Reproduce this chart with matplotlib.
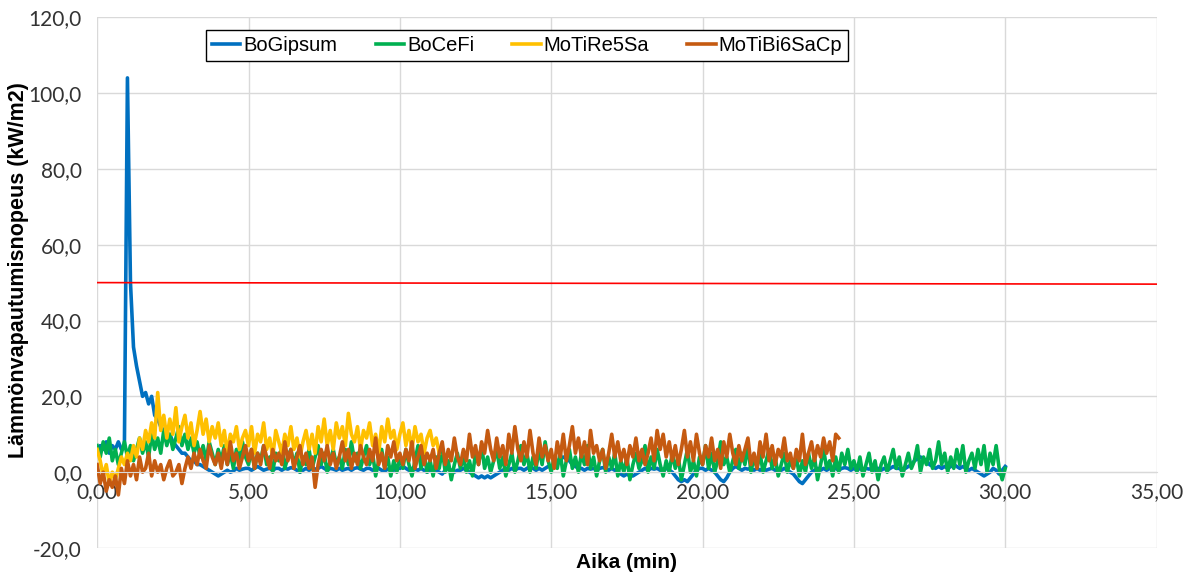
import numpy as np
import matplotlib.pyplot as plt
from matplotlib.ticker import FuncFormatter

# heat release rate readings, one value every 0.1 min
bo_gipsum = [5, 7, 6, 8, 5, 7, 6, 8, 6, 7,
             104, 50, 33, 28, 24, 20, 21, 18, 20, 15,
             14, 12, 11, 9, 10, 8, 7, 6, 5, 5,
             4, 3, 3, 2, 2, 1.5, 1, 0.5, 0, -0.5,
             -1, -0.5, 0, 0.5, 0, 0.3, 1, 0.5, 0.8, 1,
             1, 0.5, 1, 1.5, 1, 0.5, 0.8, 1, 0.5, 1,
             1, 0.5, 1, 0.8, 1.2, 1, 0.5, 0, 0.5, 1,
             0.5, 1, 0.8, 1, 1.5, 1, 0.5, 1, 0.8, 0.5,
             1, 0.5, 0.8, 1, 0.5, 1, 1.2, 0.8, 0.5, 1,
             1, 0.5, 0.8, 1, 0.5, 0.3, 0.8, 1, 0.5, 1,
             1, 1.5, 1, 0.5, 1, 0.8, 0.5, 1, 0.5, 0,
             0.5, 1, 0.5, 0, -0.5, 0.5, 1, 0.5, 0, 0.5,
             0.5, 1, 0.5, 0, -0.5, -1, -1.5, -1, -1.5, -1,
             -1.5, -1, -0.5, 0, 0.5, 1, 0.5, 1, 0.5, 1,
             1, 0.5, 1, 1.5, 1, 0.5, 1, 0.5, 1, 1.5,
             1.5, 2, 3, 3.5, 4, 3.5, 3, 2, 1.5, 1,
             1, 0.5, 1, 0.8, 1, 0.5, 1, 1.2, 1, 0.5,
             1, 0.5, 0, -0.5, -1, -0.5, -1, -1, -0.5, 0,
             0.5, 1, 0.5, 1, 0.8, 1, 0.5, 0.8, 1, 0.5,
             0, -1, -2, -2.5, -2, -2.5, -1.5, -0.5, 0.5, 1,
             1, 0.5, 1, 0.5, 0, -1, -2, -2.5, -1.5, 0,
             1, 1.5, 1, 0.5, 1, 0.8, 1, 0.5, 1, 0.5,
             1, 0.5, 0.8, 1, 0.5, 0, 0.5, 1, 0.5, 0,
             -0.5, -1.5, -2.5, -3, -2, -1, 0, 0.5, 1, 0.5,
             1, 0.5, 1, 0.8, 1, 0.5, 1, 1.2, 1, 0.5,
             1, 0.5, 1, 0.5, 1, 0.8, 1, 0.5, 1, 0.5,
             1, 0.5, 1, 1.5, 1, 1, 0.5, 1, 1.5, 2,
             3, 3.5, 4, 3.5, 3, 2, 1.5, 1, 1.5, 1,
             1.5, 1, 1.5, 2, 1.5, 1, 1.5, 1, 0.5, 1,
             0.5, 0, -0.5, -1, -0.5, 0, 1, 0.5, -0.5, 0.5,
             1.5]

bo_cefi = [7, 4, 8, 5, 9, 3, 6, 2, 5, 8,
           4, 7, 3, 6, 9, 5, 8, 4, 10, 6,
           9, 5, 11, 7, 10, 6, 9, 12, 7, 10,
           6, 9, 5, 8, 4, 7, 3, 8, 5, 2,
           6, 3, 7, 2, 5, 1, 6, 3, 8, 4,
           2, 6, 1, 5, 3, 7, 2, 4, 0, 5,
           3, 7, 1, 4, 6, 2, 5, 0, 4, 2,
           6, 1, 4, 7, 2, 5, 0, 3, 6, 2,
           4, 1, 6, 2, 8, 3, 5, 1, 4, 7,
           2, 5, -1, 3, 6, 1, 4, -1, 3, 0,
           4, 1, 6, 2, -1, 3, 7, 1, 5, 0,
           3, -1, 4, 1, 6, 0, 3, -2, 2, 5,
           1, 4, 0, 3, -1, 5, 2, 7, 1, 4,
           0, 3, 6, 1, 4, -1, 2, 5, 0, 3,
           7, 2, 5, 0, 4, 1, 6, 2, 8, 3,
           0, 4, 1, 5, -1, 3, 6, 1, 4, 0,
           5, 2, 7, 1, 4, -1, 3, 6, 0, 4,
           1, 5, -1, 3, 0, 4, -2, 2, 5, 1,
           3, 7, 0, 4, 1, 6, 2, -1, 3, 0,
           5, 1, 4, -2, 2, 6, 0, 3, -1, 4,
           2, 7, 1, 5, 0, 3, 8, 2, 4, 0,
           3, 6, 1, 5, 2, 7, 0, 4, 1, 5,
           0, 3, 6, 1, 4, -1, 2, 5, 0, 3,
           1, 4, -1, 3, 0, 5, 1, 4, -2, 2,
           6, 1, 3, -1, 4, 0, 5, 2, 6, 1,
           3, 0, 4, -1, 2, 5, 0, 3, -2, 2,
           4, 0, 3, 6, 1, 4, -1, 2, 5, 1,
           3, 7, 0, 4, 2, 6, 1, 3, 8, 2,
           5, 0, 4, 1, 6, 2, 7, 0, 3, 5,
           1, 6, 2, 7, 0, 5, 2, 7, 1, -2,
           1]

mo_tire5sa = [6, 3, -1, 2, -3, 0, -2, 1, 4, 2,
              5, 3, 7, 4, 9, 6, 11, 8, 13, 9,
              21, 11, 15, 9, 14, 10, 17, 8, 12, 15,
              9, 13, 7, 11, 16, 10, 14, 8, 12, 9,
              13, 7, 11, 5, 10, 8, 12, 6, 9, 11,
              7, 12, 5, 10, 8, 13, 6, 9, 4, 11,
              8, 5, 10, 7, 12, 6, 9, 4, 8, 11,
              6, 10, 5, 12, 8, 14, 7, 11, 6, 13,
              9, 12, 7, 15.5, 10, 8, 12, 6, 11, 9,
              13, 7, 10, 5, 12, 8, 14, 9, 11, 6,
              10, 13, 7, 11, 6, 12, 8, 10, 5, 9,
              11, 7, 9, 5]

mo_tibi6sacp = [2, -3, 0, -5, -2, -4, -1, -6, 1, -3,
                3, -1, 2, -2, 4, 0, 1, 5, -1, 3,
                0, 2, -2, 1, 3, -1, 0, 2, -3, 1,
                4, 1, 5, 2, 6, 3, 1, 7, 4, 2,
                5, 1, 6, 2, 8, 3, 5, 1, 4, 7,
                3, 6, 1, 5, 2, 7, 4, 1, 6, 3,
                5, 2, 8, 3, 6, 1, 4, 7, 2, 5,
                1, 4, -4, 2, 6, 3, 7, 2, 5, 1,
                4, 8, 3, 6, 1, 5, 2, 7, 4, 2,
                6, 3, 9, 2, 5, 1, 7, 4, 8, 3,
                5, 2, 6, 3, 8, 1, 4, 7, 2, 5,
                3, 6, 1, 5, 8, 2, 6, 3, 9, 4,
                2, 6, 3, 10, 4, 7, 2, 8, 5, 11,
                6, 3, 9, 4, 7, 2, 10, 5, 12, 6,
                3, 8, 4, 11, 5, 2, 9, 4, 7, 3,
                6, 1, 8, 4, 10, 3, 7, 12, 5, 9,
                4, 8, 2, 11, 5, 7, 3, 6, 1, 5,
                10, 4, 8, 3, 6, 2, 7, 4, 9, 3,
                6, 2, 5, 9, 3, 11, 6, 10, 4, 8,
                3, 7, 2, 6, 11, 4, 8, 3, 10, 5,
                2, 7, 4, 9, 3, 6, 1, 8, 4, 10,
                5, 2, 7, 3, 6, 9, 2, 5, 1, 8,
                4, 10, 3, 7, 2, 6, 4, 9, 3, 5,
                1, 6, 3, 10, 2, 5, 8, 3, 7, 4,
                9, 5, 8, 3, 10, 9]

limit_x = [0, 35]
limit_y = [50.0, 49.6]

series = [('BoGipsum', bo_gipsum, '#0070C0'),
          ('BoCeFi', bo_cefi, '#00B050'),
          ('MoTiRe5Sa', mo_tire5sa, '#FFC000'),
          ('MoTiBi6SaCp', mo_tibi6sacp, '#C55A11')]

fig = plt.figure(figsize=(11.85, 5.75), dpi=100)
ax = fig.add_axes([0.082, 0.047, 0.894, 0.923])

for name, vals, col in series:
    t = np.arange(len(vals)) * 0.1
    ax.plot(t, vals, color=col, lw=2.6, label=name)

ax.plot(limit_x, limit_y, color='#FF0000', lw=1.2)

ax.set_xlim(0, 35)
ax.set_ylim(-20, 120)
ax.set_xticks(np.arange(0, 36, 5))
ax.set_yticks(np.arange(-20, 121, 20))
ax.xaxis.set_major_formatter(FuncFormatter(lambda v, p: f'{v:.2f}'.replace('.', ',')))
ax.yaxis.set_major_formatter(FuncFormatter(lambda v, p: f'{v:.1f}'.replace('.', ',')))
ax.grid(color='#d9d9d9', lw=1)
ax.set_axisbelow(True)
for s in ['top', 'right', 'left']:
    ax.spines[s].set_visible(False)
ax.spines['bottom'].set_position(('data', 0))
ax.spines['bottom'].set_color('#d9d9d9')
ax.tick_params(length=0, labelsize=15, colors='#333333')
ax.tick_params(axis='x', pad=7)
ax.tick_params(axis='y', pad=11)
for lab in ax.get_xticklabels() + ax.get_yticklabels():
    lab.set_family('Lato')

fig.text(0.529, 0.021, 'Aika (min)', ha='center', va='center', fontsize=15,
         fontweight='bold', family='Liberation Sans')
fig.text(0.016, 0.53, 'Lämmönvapautumisnopeus (kW/m2)', ha='center', va='center',
         rotation=90, fontsize=15.5, fontweight='bold', family='Liberation Sans')

leg = ax.legend(loc='center', bbox_to_anchor=(0.406, 0.946), ncol=4, fancybox=False,
                edgecolor='black', framealpha=1, handlelength=1.4, handletextpad=0.15,
                columnspacing=1.9, prop={'family': 'Liberation Sans', 'size': 14.5},
                borderpad=0.3, borderaxespad=0)
leg.get_frame().set_linewidth(1)

plt.savefig('out.png', dpi=100)
